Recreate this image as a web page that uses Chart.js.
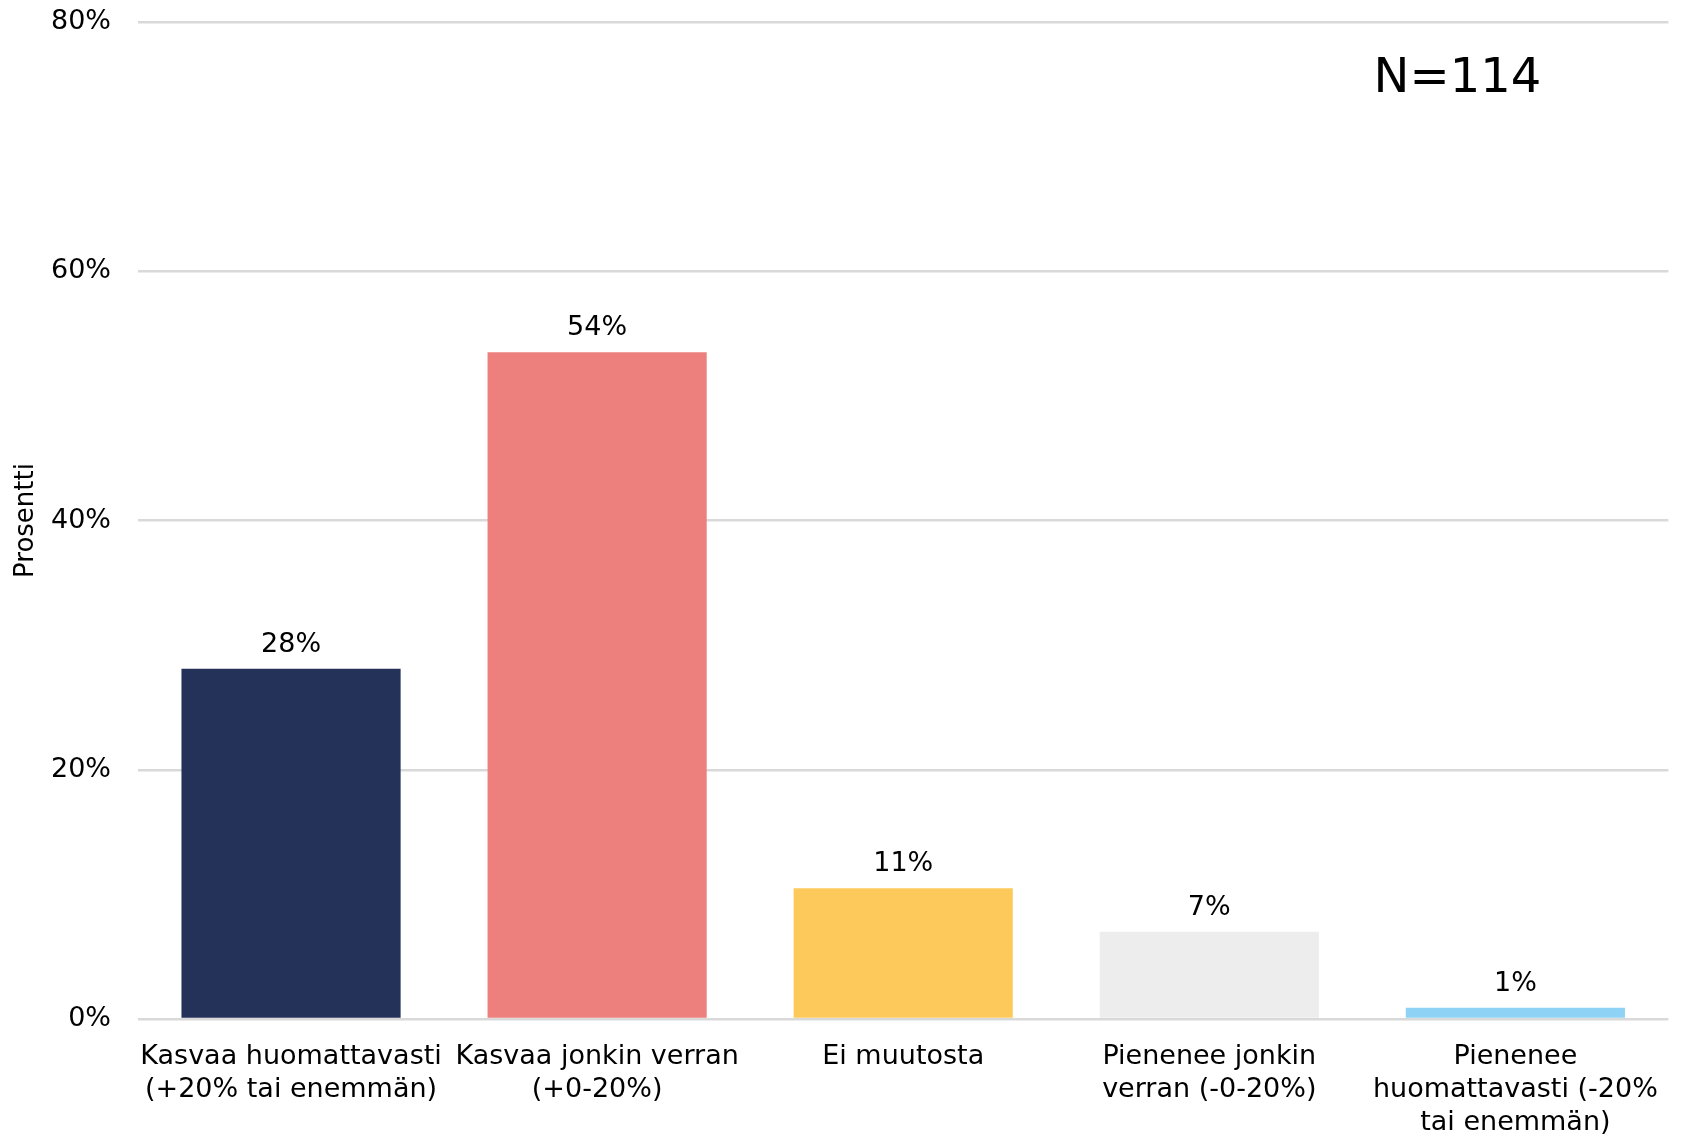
<!DOCTYPE html>
<html>
<head>
<meta charset="utf-8">
<script src="https://cdn.jsdelivr.net/npm/chart.js@4"></script>
<style>
html,body{margin:0;padding:0;background:#fff;}
canvas{display:block;}
</style>
</head>
<body>
<canvas id="c" width="1681" height="1134"></canvas>
<script>
const categories = [
  ["Kasvaa huomattavasti", "(+20% tai enemmän)"],
  ["Kasvaa jonkin verran", "(+0-20%)"],
  ["Ei muutosta"],
  ["Pienenee jonkin", "verran (-0-20%)"],
  ["Pienenee", "huomattavasti (-20%", "tai enemmän)"]
];
const values = [28.1, 53.5, 10.5, 7.0, 0.9];
const valueLabels = ["28%", "54%", "11%", "7%", "1%"];
const barColors = ["#243159", "#ED807D", "#FEC95B", "#EDEDED", "#8ED2F5"];
const yTicks = [0, 20, 40, 60, 80];
const yTitle = "Prosentti";
const noteText = "N=114";

const FONT = "'DejaVu Sans', Verdana, sans-serif";

const labelPlugin = {
  id: 'valueLabels',
  afterDatasetsDraw(chart) {
    const ctx = chart.ctx;
    const meta = chart.getDatasetMeta(0);
    ctx.save();
    ctx.font = "27px " + FONT;
    ctx.fillStyle = "#000";
    ctx.textAlign = "center";
    ctx.textBaseline = "middle";
    meta.data.forEach((bar, i) => {
      ctx.fillText(valueLabels[i], bar.x, bar.y - 24);
    });
    ctx.restore();
  }
};

const notePlugin = {
  id: 'note',
  afterDraw(chart) {
    const ctx = chart.ctx;
    const a = chart.chartArea;
    ctx.save();
    ctx.font = "48px " + FONT;
    ctx.fillStyle = "#000";
    ctx.textAlign = "center";
    ctx.textBaseline = "alphabetic";
    ctx.fillText(noteText, a.right - 211, a.top + 70);
    ctx.restore();
  }
};

new Chart(document.getElementById('c'), {
  type: 'bar',
  data: {
    labels: categories,
    datasets: [{
      data: values,
      backgroundColor: barColors,
      borderWidth: 0,
      barPercentage: 0.716,
      categoryPercentage: 1.0
    }]
  },
  options: {
    responsive: false,
    devicePixelRatio: 1,
    animation: false,
    layout: { padding: { top: 22, right: 12, left: 0, bottom: 0 } },
    plugins: {
      legend: { display: false },
      tooltip: { enabled: false }
    },
    scales: {
      x: {
        grid: { display: false, drawTicks: false },
        border: { display: false },
        ticks: {
          color: "#000",
          font: { family: FONT, size: 27, lineHeight: 1.22 },
          padding: 22,
          maxRotation: 0,
          autoSkip: false
        },
        afterFit(scale) { scale.height = 1134 - 1019; scale.paddingTop = 0; scale.paddingBottom = 0; }
      },
      y: {
        min: 0,
        max: 80,
        afterBuildTicks(scale) { scale.ticks = yTicks.map(v => ({ value: v })); },
        grid: { color: "#D9D9D9", lineWidth: 2.5, drawTicks: false },
        border: { display: false },
        ticks: {
          color: "#000",
          font: { family: FONT, size: 27 },
          padding: 27,
          callback: v => v + "%"
        },
        title: {
          display: true,
          text: yTitle,
          color: "#000",
          font: { family: FONT, size: 26 },
          padding: { top: 11, bottom: 0 }
        },
        afterFit(scale) { scale.width = 138; scale.paddingTop = 0; scale.paddingBottom = 0; }
      }
    }
  },
  plugins: [labelPlugin, notePlugin]
});
</script>
</body>
</html>
